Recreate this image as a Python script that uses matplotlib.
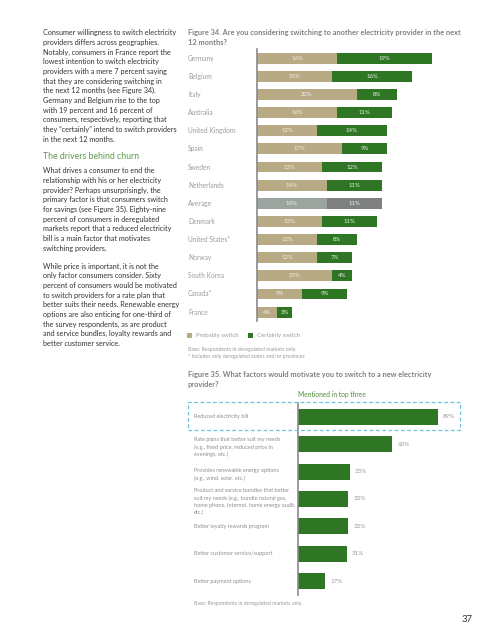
import matplotlib
matplotlib.use('Agg')
import matplotlib.pyplot as plt
from matplotlib import font_manager as fm
from matplotlib.transforms import blended_transform_factory
from matplotlib.patches import Rectangle

# ---------------- data ----------------
countries = ["Germany", "Belgium", "Italy", "Australia", "United Kingdom", "Spain",
             "Sweden", "Netherlands", "Average", "Denmark", "United States*", "Norway",
             "South Korea", "Canada*", "France"]
probably = [16, 15, 20, 16, 12, 17, 13, 14, 14, 13, 12, 12, 15, 9, 4]
certainly = [19, 16, 8, 11, 14, 9, 12, 11, 11, 11, 8, 7, 4, 9, 3]

factors = ["Reduced electricity bill",
           "Rate plans that better suit my needs\n(e.g., fixed price, reduced price in\nevenings, etc.)",
           "Provides renewable energy options\n(e.g., wind, solar, etc.)",
           "Product and service bundles that better\nsuit my needs (e.g., bundle natural gas,\nhome phone, Internet, home energy audit,\netc.)",
           "Better loyalty rewards program",
           "Better customer service/support",
           "Better payment options"]
mentioned = [89, 60, 33, 32, 32, 31, 17]

para1 = ["Consumer willingness to switch electricity",
         "providers differs across geographies.",
         "Notably, consumers in France report the",
         "lowest intention to switch electricity",
         "providers with a mere 7 percent saying",
         "that they are considering switching in",
         "the next 12 months (see Figure 34).",
         "Germany and Belgium rise to the top",
         "with 19 percent and 16 percent of",
         "consumers, respectively, reporting that",
         "they \u201ccertainly\u201d intend to switch providers",
         "in the next 12 months."]
heading = "The drivers behind churn"
para2 = ["What drives a consumer to end the",
         "relationship with his or her electricity",
         "provider? Perhaps unsurprisingly, the",
         "primary factor is that consumers switch",
         "for savings (see Figure 35). Eighty-nine",
         "percent of consumers in deregulated",
         "markets report that a reduced electricity",
         "bill is a main factor that motivates",
         "switching providers."]
para3 = ["While price is important, it is not the",
         "only factor consumers consider. Sixty",
         "percent of consumers would be motivated",
         "to switch providers for a rate plan that",
         "better suits their needs. Renewable energy",
         "options are also enticing for one-third of",
         "the survey respondents, as are product",
         "and service bundles, loyalty rewards and",
         "better customer service."]

# ---------------- setup ----------------
W, H = 495, 640
fig = plt.figure(figsize=(4.95, 6.4), dpi=100)
fig.patch.set_facecolor('white')

avail = {f.name for f in fm.fontManager.ttflist}
FONT = next((f for f in ['Liberation Sans Narrow', 'Lato', 'Open Sans'] if f in avail), 'DejaVu Sans')
plt.rcParams['font.family'] = [FONT, 'DejaVu Sans']

TAN = '#B7AA84'
GREEN = '#2E7624'
AVG_P = '#9BA49F'
AVG_C = '#7F8081'
BODY = '#333333'
GREY = '#9C9C9C'


def fx(x):
    return x / W


def fy(y):
    return 1 - y / H


def px_axes(l, t, r, b):
    return fig.add_axes([fx(l), fy(b), (r - l) / W, (b - t) / H])


def lines(x, y0, step, txts, **kw):
    for k, t in enumerate(txts):
        fig.text(fx(x), fy(y0 + k * step), t, va='center', ha='left', **kw)


# ---------------- left text column ----------------
lines(43, 32.6, 9.7, para1, fontsize=5.2, color=BODY)
fig.text(fx(43), fy(156.5), heading, va='center', ha='left', fontsize=6.3, color='#5E9A4E')
lines(43, 170.7, 9.67, para2, fontsize=5.2, color=BODY)
lines(43, 266.0, 9.67, para3, fontsize=5.2, color=BODY)

# ---------------- Figure 34 ----------------
lines(188, 32.5, 10.2, ["Figure 34. Are you considering switching to another electricity provider in the next",
                        "12 months?"], fontsize=5.3, color='#808080', fontweight='bold')

ax1 = px_axes(257, 49.1, 457, 321.2)
n = len(countries)
ypos = list(range(n))
avg_i = countries.index("Average")
pcol = [AVG_P if i == avg_i else TAN for i in ypos]
ccol = [AVG_C if i == avg_i else GREEN for i in ypos]
ax1.barh(ypos, probably, height=0.6, color=pcol)
ax1.barh(ypos, certainly, left=probably, height=0.6, color=ccol)
ax1.set_xlim(0, 40)
ax1.set_ylim(n - 0.5, -0.5)
for s in ['top', 'right', 'bottom']:
    ax1.spines[s].set_visible(False)
ax1.spines['left'].set_color('#8A8A8A')
ax1.spines['left'].set_linewidth(1.2)
ax1.set_xticks([])
ax1.set_yticks([])
ax1.set_facecolor('none')
trans1 = blended_transform_factory(fig.transFigure, ax1.transData)
for i in ypos:
    p, c = probably[i], certainly[i]
    ax1.text(p / 2, i, f"{p}%", ha='center', va='center', color='#F2F0EA', fontsize=4.3)
    ax1.text(p + c / 2, i, f"{c}%", ha='center', va='center', color='#EEF3EC', fontsize=4.3)
    ax1.text(fx(188), i, countries[i], transform=trans1, ha='left', va='center',
             color=GREY, fontsize=4.8)

# legend
fig.add_artist(Rectangle((fx(187), fy(337.5)), 5 / W, 5 / H, transform=fig.transFigure,
                         color=TAN, lw=0))
fig.text(fx(196.5), fy(335), "Probably switch", va='center', ha='left', fontsize=4.4, color=GREY)
fig.add_artist(Rectangle((fx(248), fy(337.5)), 5 / W, 5 / H, transform=fig.transFigure,
                         color=GREEN, lw=0))
fig.text(fx(257.3), fy(335), "Certainly switch", va='center', ha='left', fontsize=4.4, color=GREY)

lines(188, 349, 7.8, ["Base: Respondents in deregulated markets only.",
                      "* Includes only deregulated states and/or provinces"],
      fontsize=3.7, color='#9A9A9A')

# ---------------- Figure 35 ----------------
lines(188, 374.3, 10.7, ["Figure 35. What factors would motivate you to switch to a new electricity",
                         "provider?"], fontsize=5.35, color='#808080', fontweight='bold')
fig.text(fx(298), fy(394.3), "Mentioned in top three", va='center', ha='left',
         fontsize=4.8, color='#4F8A3E')

fig.add_artist(Rectangle((fx(188), fy(430)), (459.5 - 188) / W, (430 - 401.5) / H,
                         transform=fig.transFigure, fill=False, ls=(0, (3, 2)),
                         ec='#6FC3DA', lw=0.9))

ax2 = px_axes(298, 403.3, 455, 594.7)
m = len(factors)
y2 = list(range(m))
ax2.barh(y2, mentioned, height=0.585, color=GREEN)
ax2.set_xlim(0, 100)
ax2.set_ylim(m - 0.5, -0.5)
for s in ['top', 'right', 'bottom']:
    ax2.spines[s].set_visible(False)
ax2.spines['left'].set_color('#8A8A8A')
ax2.spines['left'].set_linewidth(1.2)
ax2.set_xticks([])
ax2.set_yticks([])
ax2.set_facecolor('none')
trans2 = blended_transform_factory(fig.transFigure, ax2.transData)
for i in y2:
    ax2.text(mentioned[i] + 3.4, i, f"{mentioned[i]}%", ha='left', va='center',
             color='#9A9A9A', fontsize=4.5)
    ax2.text(fx(194), i + (0.1 if '\n' in factors[i] else 0), factors[i], transform=trans2,
             ha='left', va='center', color='#8E8E8E', fontsize=4.0, linespacing=1.45)

fig.text(fx(194), fy(604), "Base: Respondents in deregulated markets only.", va='center',
         ha='left', fontsize=3.7, color='#9A9A9A')

fig.text(fx(462), fy(619.5), "37", va='center', ha='left', fontsize=6.8, color='#333333')

fig.savefig('out.png', dpi=100, facecolor='white')
